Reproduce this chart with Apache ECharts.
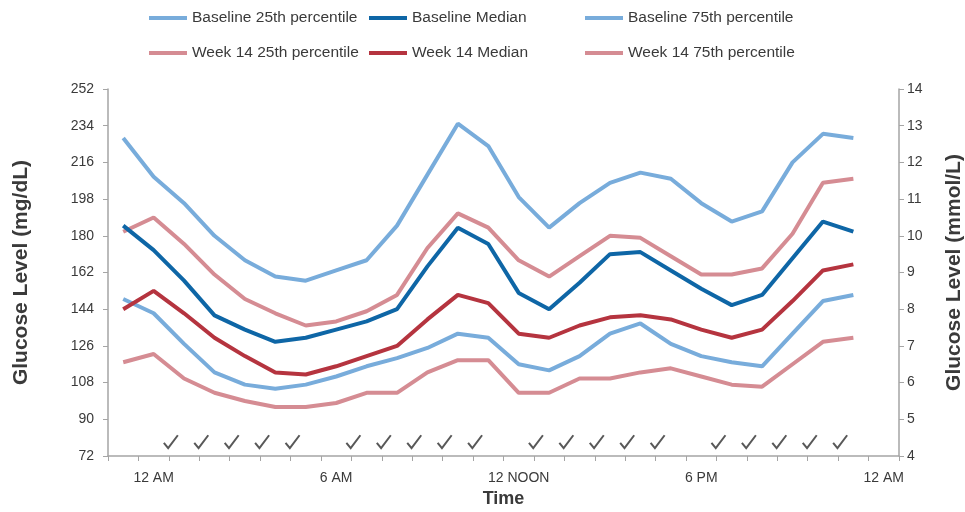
<!DOCTYPE html>
<html>
<head>
<meta charset="utf-8">
<script src="https://cdn.jsdelivr.net/npm/echarts@6/dist/echarts.min.js"></script>
<style>html,body{margin:0;padding:0;background:#fff;}#chart{width:965px;height:512px;}</style>
</head>
<body>
<div id="chart"></div>
<script>
// Hour categories: 11 PM (previous day) through 12 AM (next day)
const hours = [-1,0,1,2,3,4,5,6,7,8,9,10,11,12,13,14,15,16,17,18,19,20,21,22,23,24];
const tickLabels = ['', '12 AM', '', '', '', '', '', '6 AM', '', '', '', '', '', '12 NOON', '', '', '', '', '', '6 PM', '', '', '', '', '', '12 AM'];

const baseline25 = [149, 142, 127, 113, 107, 105, 107, 111, 116, 120, 125, 132, 130, 117, 114, 121, 132, 137, 127, 121, 118, 116, 132, 148, 151];
const baselineMedian = [185, 173, 158, 141, 134, 128, 130, 134, 138, 144, 165, 184, 176, 152, 144, 157, 171, 172, 163, 154, 146, 151, 169, 187, 182];
const baseline75 = [228, 209, 196, 180, 168, 160, 158, 163, 168, 185, 210, 235, 224, 199, 184, 196, 206, 211, 208, 196, 187, 192, 216, 230, 228];
const week14_25 = [118, 122, 110, 103, 99, 96, 96, 98, 103, 103, 113, 119, 119, 103, 103, 110, 110, 113, 115, 111, 107, 106, 117, 128, 130];
const week14Median = [144, 153, 142, 130, 121, 113, 112, 116, 121, 126, 139, 151, 147, 132, 130, 136, 140, 141, 139, 134, 130, 134, 148, 163, 166];
const week14_75 = [182, 189, 176, 161, 149, 142, 136, 138, 143, 151, 174, 191, 184, 168, 160, 170, 180, 179, 170, 161, 161, 164, 181, 206, 208];

// Check marks sit on category boundaries (boundary index along the axis)
const checkBoundaries = [2,3,4,5,6, 8,9,10,11,12, 14,15,16,17,18, 20,21,22,23,24];
const checkLevel = 79;

const mgTicks = {min: 72, max: 252, interval: 18};
const mmolTicks = {min: 4, max: 14, interval: 1};

const LIGHT_BLUE = '#78acdb';
const DARK_BLUE = '#0e66a6';
const PINK = '#d58c93';
const RED = '#b5343f';
const FONT = '"Liberation Sans", Arial, sans-serif';
const AXIS_COLOR = '#a5a5a5';
const TEXT_COLOR = '#3a3a3a';

const chart = echarts.init(document.getElementById('chart'), null, {renderer: 'canvas'});

function lineSeries(name, data, color, z) {
  return {
    name: name, type: 'line', data: data, xAxisIndex: 0, yAxisIndex: 0,
    symbol: 'none', smooth: false, z: z,
    lineStyle: {color: color, width: 4},
    itemStyle: {color: color}
  };
}

function legendAt(name, left, top) {
  return {
    data: [name], left: left, top: top, orient: 'horizontal',
    icon: 'rect', itemWidth: 38, itemHeight: 4, padding: 0,
    textStyle: {fontFamily: FONT, fontSize: 15.5, color: TEXT_COLOR},
    selectedMode: false
  };
}

const option = {
  backgroundColor: '#ffffff',
  animation: false,
  legend: [
    legendAt('Baseline 25th percentile', 149, 10),
    legendAt('Baseline Median', 369, 10),
    legendAt('Baseline 75th percentile', 585, 10),
    legendAt('Week 14 25th percentile', 149, 45),
    legendAt('Week 14 Median', 369, 45),
    legendAt('Week 14 75th percentile', 585, 45)
  ],
  grid: {left: 108, right: 66, top: 89, bottom: 56, outerBoundsMode: 'none', containLabel: false},
  xAxis: [{
    type: 'category', data: hours, boundaryGap: true,
    name: 'Time', nameLocation: 'middle', nameGap: 34,
    nameTextStyle: {fontFamily: FONT, fontSize: 18, fontWeight: 'bold', color: TEXT_COLOR},
    axisLine: {show: true, lineStyle: {color: AXIS_COLOR, width: 1.5}},
    axisTick: {show: true, interval: 0, alignWithLabel: false, length: 5, inside: false, lineStyle: {color: AXIS_COLOR}},
    axisLabel: {interval: 0, margin: 15, fontFamily: FONT, fontSize: 14, color: TEXT_COLOR,
      formatter: function (v, i) { return tickLabels[i]; }},
    splitLine: {show: false}
  }, {
    type: 'value', min: 0, max: hours.length, show: false, position: 'bottom'
  }],
  yAxis: [{
    type: 'value', position: 'left', min: mgTicks.min, max: mgTicks.max, interval: mgTicks.interval,
    name: 'Glucose Level (mg/dL)', nameLocation: 'middle', nameGap: 76, nameRotate: 90,
    nameTextStyle: {fontFamily: FONT, fontSize: 21, fontWeight: 'bold', color: TEXT_COLOR},
    axisLine: {show: true, lineStyle: {color: AXIS_COLOR, width: 1.5}},
    axisTick: {show: true, length: 5, lineStyle: {color: AXIS_COLOR}},
    axisLabel: {margin: 14, fontFamily: FONT, fontSize: 14, color: TEXT_COLOR},
    splitLine: {show: false}
  }, {
    type: 'value', position: 'right', min: mmolTicks.min, max: mmolTicks.max, interval: mmolTicks.interval,
    name: 'Glucose Level (mmol/L)', nameLocation: 'middle', nameGap: 45, nameRotate: 90,
    nameTextStyle: {fontFamily: FONT, fontSize: 21, fontWeight: 'bold', color: TEXT_COLOR},
    axisLine: {show: true, lineStyle: {color: AXIS_COLOR, width: 1.5}},
    axisTick: {show: true, length: 5, lineStyle: {color: AXIS_COLOR}},
    axisLabel: {margin: 8, fontFamily: FONT, fontSize: 14, color: TEXT_COLOR},
    splitLine: {show: false}
  }],
  series: [
    lineSeries('Baseline 25th percentile', baseline25, LIGHT_BLUE, 2),
    lineSeries('Baseline Median', baselineMedian, DARK_BLUE, 4),
    lineSeries('Baseline 75th percentile', baseline75, LIGHT_BLUE, 2),
    lineSeries('Week 14 25th percentile', week14_25, PINK, 3),
    lineSeries('Week 14 Median', week14Median, RED, 3),
    lineSeries('Week 14 75th percentile', week14_75, PINK, 3),
    {
      name: 'checks', type: 'scatter', xAxisIndex: 1, yAxisIndex: 0,
      data: checkBoundaries.map(function (b) { return [b, checkLevel]; }),
      symbol: 'path://M0,7 L4,12 L13,0', symbolSize: [14, 14], symbolKeepAspect: true,
      symbolOffset: [2, 0],
      itemStyle: {color: 'none', borderColor: '#2e2e2e', borderWidth: 2},
      silent: true, z: 5
    }
  ]
};
chart.setOption(option);
</script>
</body>
</html>
